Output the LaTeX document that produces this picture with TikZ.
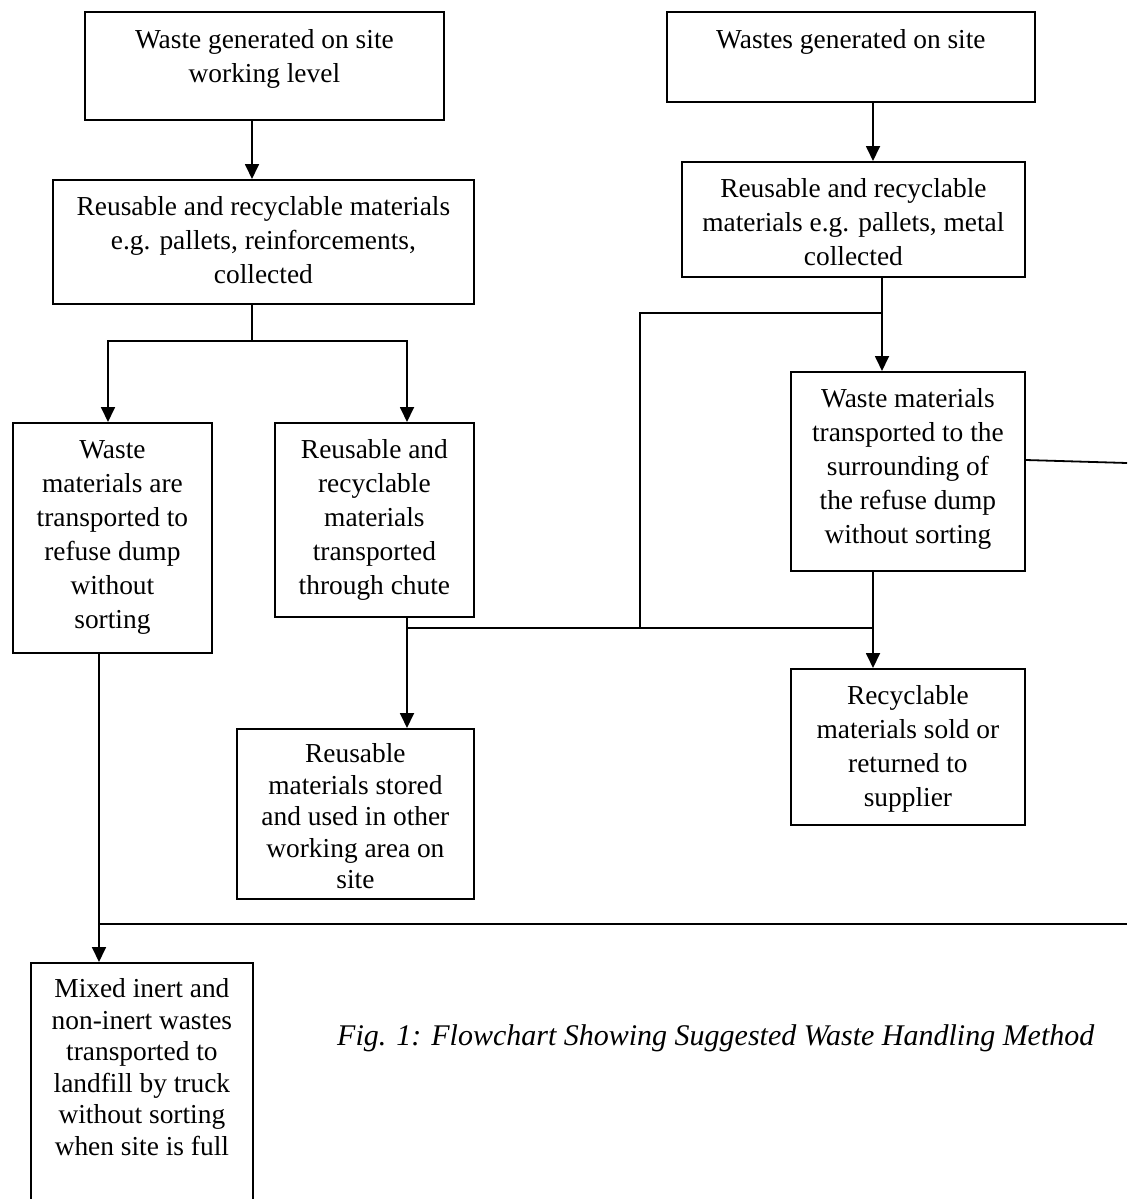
\documentclass[tikz,border=0pt]{standalone}
\usepackage{fontspec}
\setmainfont{Liberation Serif}
\usetikzlibrary{arrows.meta,calc}
\newcommand{\boxtext}[4]{\parbox[c][#2pt][t]{#1pt}{\centering\rule{0pt}{#3pt}#4}}
\begin{document}
\begin{tikzpicture}[x=1pt,y=-1pt,
  box/.style={draw, line width=1.8pt, inner sep=0pt, anchor=north west, rectangle,
    font=\fontsize{27.4}{34}\selectfont},
  tightbox/.style={box, font=\fontsize{27.4}{31.5}\selectfont},
  ln/.style={line width=1.8pt},
  arr/.style={line width=1.8pt, -{Triangle[length=15pt,width=14pt]}}]
\useasboundingbox (0,0) rectangle (1127,1199);
% boxes
\node[box] (A) at (84,11) {\boxtext{359}{108}{36.7}{Waste generated on site\\working level}};
\node[box] (B) at (52,179) {\boxtext{421}{124}{36}{Reusable and recyclable materials\\e.g. pallets, reinforcements,\\collected}};
\node[box] (C) at (12,422) {\boxtext{199}{230}{36}{Waste\\materials are\\transported to\\refuse dump\\without\\sorting}};
\node[box] (D) at (274,422) {\boxtext{199}{194}{36}{Reusable and\\recyclable\\materials\\transported\\through chute}};
\node[box] (E) at (666,11) {\boxtext{368}{90}{37}{Wastes generated on site}};
\node[box] (F) at (681,161) {\boxtext{343}{115}{36}{Reusable and recyclable\\materials e.g. pallets, metal\\collected}};
\node[box] (G) at (790,371) {\boxtext{234}{199}{36}{Waste materials\\transported to the\\surrounding of\\the refuse dump\\without sorting}};
\node[box] (H) at (790,668) {\boxtext{234}{156}{36}{Recyclable\\materials sold or\\returned to\\supplier}};
\node[tightbox] (I) at (236,728) {\boxtext{237}{170}{34}{Reusable\\materials stored\\and used in other\\working area on\\site}};
\node[tightbox] (J) at (30,962) {\boxtext{222}{260}{35}{Mixed inert and\\non-inert wastes\\transported to\\landfill by truck\\without sorting\\when site is full}};
% caption
\node[anchor=base west, inner sep=0pt, font=\fontsize{30}{36}\selectfont\itshape] (cap) at (337,1045)
  {Fig. 1: Flowchart Showing Suggested Waste Handling Method};
% helper coordinates
\coordinate (xAB) at (252,0);
\coordinate (ySplit) at (0,341);
\coordinate (xC) at (108,0);
\coordinate (xD) at (407,0);
\coordinate (yMid) at (0,628);
\coordinate (xLoop) at (640,0);
\coordinate (yTop) at (0,313);
\coordinate (xEF) at (873,0);
\coordinate (xFG) at (882,0);
\coordinate (xGH) at (873,0);
\coordinate (gR) at (0,460);
\coordinate (rEdge1) at (1127,463);
\coordinate (xCJ) at (99,0);
\coordinate (yLow) at (0,924);
\coordinate (rEdge2) at (1127,924);
% connectors
\draw[arr] (A.south -| xAB) -- (B.north -| xAB);
\draw[ln] (B.south -| xAB) -- (xAB |- ySplit);
\draw[arr] (xAB |- ySplit) -| (C.north -| xC);
\draw[arr] (xAB |- ySplit) -| (D.north -| xD);
\draw[arr] (D.south -| xD) -- (I.north -| xD);
\draw[ln] (xD |- yMid) -- (xGH |- yMid);
\draw[ln] (xLoop |- yMid) |- (xFG |- yTop);
\draw[arr] (E.south -| xEF) -- (F.north -| xEF);
\draw[arr] (F.south -| xFG) -- (G.north -| xFG);
\draw[arr] (G.south -| xGH) -- (H.north -| xGH);
\draw[ln] (G.east |- gR) -- (rEdge1);
\draw[arr] (C.south -| xCJ) -- (J.north -| xCJ);
\draw[ln] (xCJ |- yLow) -- (rEdge2);
\end{tikzpicture}
\end{document}
